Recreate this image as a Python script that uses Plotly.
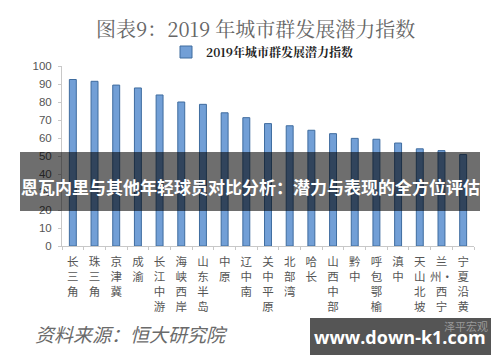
import plotly.graph_objects as go

categories = ["长三角", "珠三角", "京津冀", "成渝", "长江中游", "海峡西岸", "山东半岛", "中原",
              "辽中南", "关中平原", "北部湾", "哈长", "山西中部", "黔中", "呼包鄂榆", "滇中",
              "天山北坡", "兰州-西宁", "宁夏沿黄"]
values = [92.5, 91.5, 89.4, 87.8, 83.9, 80.0, 78.7, 74.0, 71.3, 68.0, 66.8, 64.3, 62.4,
          59.8, 59.3, 57.2, 54.0, 53.0, 50.8]
series_name = "2019年城市群发展潜力指数"
y_ticks = [0, 10, 20, 30, 40, 50, 60, 70, 80, 90, 100]

W, H = 500, 362
def py(p):
    return 1 - p / H
def px(p):
    return p / W

def vertical(name):
    parts = []
    for c in name:
        if c == "-":
            parts[-1] = parts[-1] + "•"
        else:
            parts.append(c)
    return "<br>".join(parts)

tick_text = [vertical(n) for n in categories]

fig = go.Figure()
fig.add_trace(go.Bar(
    x=categories, y=values, name="<b>" + series_name + "</b>",
    marker=dict(color="#729fd6", line=dict(color="#3f6c9f", width=1)),
    width=0.32,
))

# Decorative horizontal rules on hidden overlay axes measured in page pixels
rule_x = [22, 485, None, 22, 485]
rule_y = [43, 43, None, 315, 315]
fig.add_trace(go.Scatter(
    x=rule_x, y=rule_y, xaxis="x2", yaxis="y2", mode="lines",
    line=dict(color="#111111", width=3), showlegend=False, hoverinfo="skip",
    cliponaxis=False, connectgaps=False,
))

fig.update_layout(
    width=W, height=H,
    margin=dict(l=0, r=0, t=0, b=0, pad=0, autoexpand=False),
    paper_bgcolor="white", plot_bgcolor="white",
    showlegend=True,
    legend=dict(orientation="h", x=px(262), y=py(52), xanchor="center", yanchor="middle",
                font=dict(family="Noto Serif CJK SC, Noto Sans CJK SC", size=12, color="#222"),
                bgcolor="rgba(0,0,0,0)", itemwidth=30, tracegroupgap=0),
    xaxis=dict(domain=[px(62), px(474)], tickmode="array", tickvals=categories, ticktext=tick_text,
               tickfont=dict(family="Noto Sans CJK SC", size=11.5, color="#555"),
               showline=True, linecolor="#c8c8c8", linewidth=1, ticks="outside", ticklen=3,
               tickcolor="#c8c8c8", tickson="boundaries", showgrid=False, tickangle=0,
               ticklabelstandoff=5,
               automargin=False, range=[-0.5, len(categories) - 0.5]),
    yaxis=dict(domain=[py(246), py(66)], range=[0, 100], tickvals=y_ticks, automargin=False,
               tickfont=dict(family="Liberation Sans", size=11.5, color="#555"),
               showline=True, linecolor="#c8c8c8", linewidth=1, ticks="outside", ticklen=3,
               tickcolor="#c8c8c8", showgrid=False, zeroline=False, ticklabelstandoff=4),
    xaxis2=dict(overlaying="x", range=[62, 474], visible=False, automargin=False,
                showgrid=False, zeroline=False, fixedrange=True),
    yaxis2=dict(overlaying="y", range=[246, 66], visible=False, automargin=False,
                showgrid=False, zeroline=False, fixedrange=True),
)

# Title
fig.add_annotation(text="图表9：2019 年城市群发展潜力指数", xref="paper", yref="paper",
                   x=px(255), y=py(29), xanchor="center", yanchor="middle", showarrow=False,
                   font=dict(family="Noto Serif CJK SC, Noto Sans CJK SC", size=20, color="#666"))

# Source
fig.add_annotation(text="<i>资料来源：恒大研究院</i>", xref="paper", yref="paper",
                   x=px(33), y=py(333), xanchor="left", yanchor="middle", showarrow=False,
                   font=dict(family="Noto Sans CJK SC", size=19, color="#6a6a6a"))
fig.add_annotation(text="泽平宏观", xref="paper", yref="paper",
                   x=px(490), y=py(326), xanchor="right", yanchor="middle", showarrow=False,
                   font=dict(family="Noto Sans CJK SC", size=11, color="#999"))

# Overlay band
fig.add_shape(type="rect", xref="paper", yref="paper", x0=px(20), x1=px(480), y0=py(211), y1=py(152),
              fillcolor="rgba(0,0,0,0.57)", line=dict(width=0), layer="above")
fig.add_annotation(text="<b>恩瓦内里与其他年轻球员对比分析：潜力与表现的全方位评估</b>", xref="paper", yref="paper",
                   x=px(250), y=py(187), xanchor="center", yanchor="middle", showarrow=False,
                   font=dict(family="Noto Sans CJK SC", size=17, color="white"))

# Watermark box
fig.add_shape(type="rect", xref="paper", yref="paper", x0=px(310), x1=px(491), y0=py(355), y1=py(318),
              fillcolor="rgba(70,70,70,0.92)", line=dict(width=0), layer="above")
fig.add_annotation(text="<b>www.down-k1.com</b>", xref="paper", yref="paper",
                   x=px(400), y=py(337), xanchor="center", yanchor="middle", showarrow=False,
                   font=dict(family="Open Sans", size=18, color="white"))

fig.write_html("out.html", config={"displayModeBar": False},
               post_script="document.body.style.margin='0';document.body.style.overflow='hidden';")
